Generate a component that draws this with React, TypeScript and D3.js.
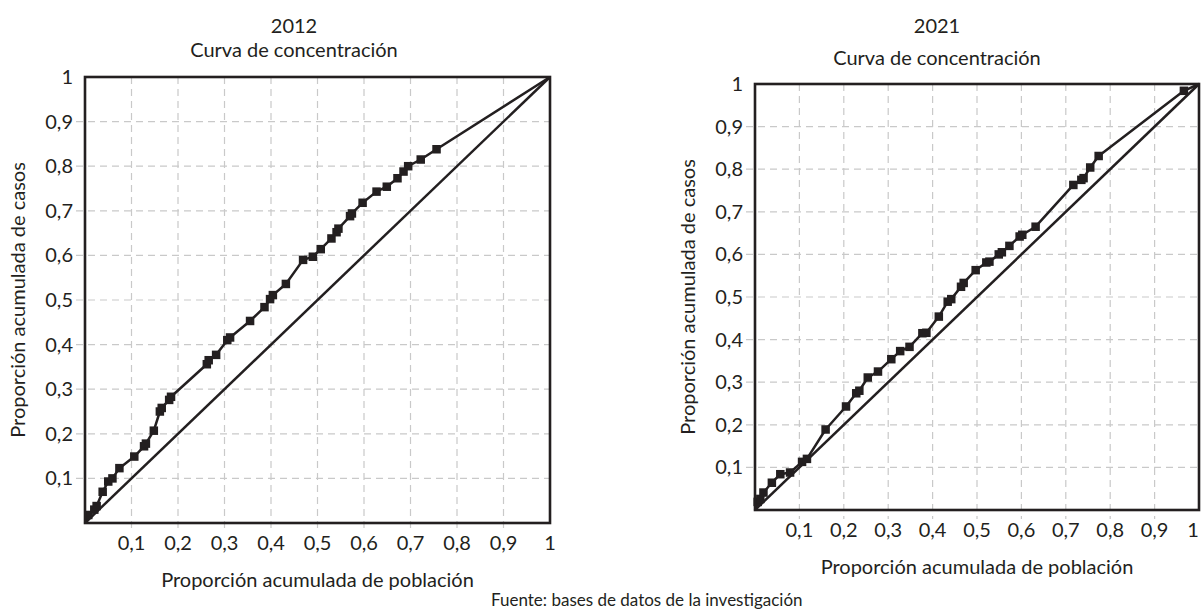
import React from 'react';
import * as d3 from 'd3';

const gridTicks = [0.1, 0.2, 0.3, 0.4, 0.5, 0.6, 0.7, 0.8, 0.9];
const labelTicks = [0.1, 0.2, 0.3, 0.4, 0.5, 0.6, 0.7, 0.8, 0.9, 1];
const tickLabels = ['0,1', '0,2', '0,3', '0,4', '0,5', '0,6', '0,7', '0,8', '0,9', '1'];

const x2012 = [0.007, 0.02, 0.025, 0.038, 0.05, 0.059, 0.074, 0.106, 0.127, 0.131, 0.148, 0.161, 0.165, 0.181, 0.185, 0.262, 0.266, 0.282, 0.306, 0.312, 0.355, 0.386, 0.398, 0.404, 0.432, 0.469, 0.49, 0.507, 0.53, 0.541, 0.545, 0.57, 0.574, 0.597, 0.627, 0.649, 0.672, 0.685, 0.695, 0.722, 0.756];
const y2012 = [0.018, 0.03, 0.038, 0.07, 0.093, 0.1, 0.123, 0.149, 0.172, 0.178, 0.207, 0.25, 0.258, 0.276, 0.283, 0.356, 0.365, 0.377, 0.41, 0.416, 0.453, 0.484, 0.502, 0.511, 0.536, 0.59, 0.597, 0.614, 0.638, 0.652, 0.66, 0.688, 0.694, 0.718, 0.743, 0.754, 0.773, 0.788, 0.8, 0.815, 0.838];

const x2021 = [0.006, 0.012, 0.019, 0.038, 0.057, 0.079, 0.106, 0.117, 0.159, 0.205, 0.228, 0.235, 0.254, 0.277, 0.307, 0.327, 0.348, 0.377, 0.386, 0.414, 0.434, 0.442, 0.464, 0.47, 0.497, 0.521, 0.528, 0.549, 0.556, 0.573, 0.596, 0.602, 0.632, 0.717, 0.735, 0.74, 0.755, 0.774, 0.966];
const y2021 = [0.019, 0.026, 0.041, 0.064, 0.084, 0.088, 0.113, 0.12, 0.189, 0.243, 0.274, 0.28, 0.311, 0.325, 0.354, 0.373, 0.383, 0.415, 0.416, 0.454, 0.489, 0.495, 0.524, 0.533, 0.563, 0.581, 0.583, 0.6, 0.605, 0.62, 0.642, 0.646, 0.665, 0.763, 0.775, 0.779, 0.804, 0.831, 0.984];

const chartTitle = 'Curva de concentración';
const xAxisTitle = 'Proporción acumulada de población';
const yAxisTitle = 'Proporción acumulada de casos';
const sourceNote = 'Fuente: bases de datos de la investigación';

const INK = '#231f20';
const GRID = '#c9c9c9';
const FONT = 'Lato, "Open Sans", sans-serif';
const W = 1201;

type Box = { left: number; right: number; top: number; bottom: number };

function Panel(props: {
  xs: number[]; ys: number[]; box: Box; year: string;
  titleX: number; yearY: number; subY: number; yTitleX: number; xTitleY: number;
}) {
  const { xs, ys, box, year, titleX, yearY, subY, yTitleX, xTitleY } = props;
  const x = d3.scaleLinear().domain([0, 1]).range([box.left, box.right]);
  const y = d3.scaleLinear().domain([0, 1]).range([box.bottom, box.top]);
  const pts: [number, number][] = [[0, 0], ...xs.map((v, i) => [v, ys[i]] as [number, number]), [1, 1]];
  const curve = d3.line<[number, number]>()
    .x(d => x(d[0]))
    .y(d => y(d[1]))
    .curve(d3.curveLinear);
  const ms = 8.5;
  return (
    <g>
      <text x={titleX} y={yearY} textAnchor="middle" fontSize={20} fill={INK} fontFamily={FONT}>{year}</text>
      <text x={titleX} y={subY} textAnchor="middle" fontSize={20} fill={INK} fontFamily={FONT}>{chartTitle}</text>
      {gridTicks.map(t => (
        <line key={'v' + t} x1={x(t)} x2={x(t)} y1={y(1)} y2={y(0) + 9} stroke={GRID} strokeWidth={1.2} strokeDasharray="7,5" />
      ))}
      {gridTicks.map(t => (
        <line key={'h' + t} x1={x(0) - 9} x2={x(1)} y1={y(t)} y2={y(t)} stroke={GRID} strokeWidth={1.2} strokeDasharray="7,5" />
      ))}
      <path d={curve([[0, 0], [1, 1]]) || ''} fill="none" stroke={INK} strokeWidth={2.5} />
      <path d={curve(pts) || ''} fill="none" stroke={INK} strokeWidth={2.5} strokeLinejoin="round" />
      {xs.map((v, i) => (
        <rect key={'m' + i} x={x(v) - ms / 2} y={y(ys[i]) - ms / 2} width={ms} height={ms} fill={INK} />
      ))}
      <rect x={box.left} y={box.top} width={box.right - box.left} height={box.bottom - box.top} fill="none" stroke={INK} strokeWidth={2.6} />
      {labelTicks.map((t, i) => (
        <text key={'xl' + t} x={Math.min(x(t), W - 8)} y={y(0) + 27} textAnchor="middle" fontSize={20} fill={INK} fontFamily={FONT}>{tickLabels[i]}</text>
      ))}
      {labelTicks.map((t, i) => (
        <text key={'yl' + t} x={x(0) - 12} y={y(t) + 7} textAnchor="end" fontSize={20} fill={INK} fontFamily={FONT}>{tickLabels[i]}</text>
      ))}
      <text x={(box.left + box.right) / 2} y={xTitleY} textAnchor="middle" fontSize={20} fill={INK} fontFamily={FONT}>{xAxisTitle}</text>
      <text transform={`translate(${yTitleX},${(box.top + box.bottom) / 2}) rotate(-90)`} textAnchor="middle" fontSize={20} fill={INK} fontFamily={FONT}>{yAxisTitle}</text>
    </g>
  );
}

export default function App() {
  return (
    <svg width={W} height={611} style={{ position: 'absolute', left: 0, top: 0, background: '#fff' }}>
      <rect width={W} height={611} fill="#fff" />
      <Panel xs={x2012} ys={y2012} box={{ left: 85, right: 550, top: 77, bottom: 523 }} year="2012"
        titleX={294} yearY={33} subY={57} yTitleX={25} xTitleY={587} />
      <Panel xs={x2021} ys={y2021} box={{ left: 755, right: 1199, top: 84, bottom: 510 }} year="2021"
        titleX={937} yearY={33} subY={65} yTitleX={695} xTitleY={574} />
      <text x={491} y={606} fontSize={17} fill={INK} fontFamily={FONT}>{sourceNote}</text>
    </svg>
  );
}
